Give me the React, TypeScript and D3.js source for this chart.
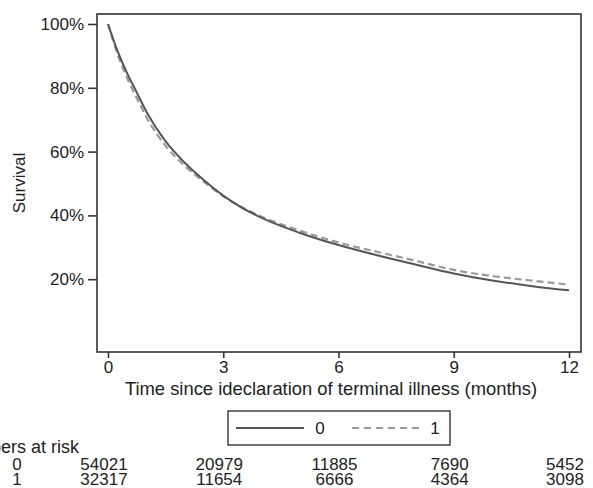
import { useEffect, useRef } from 'react';
import * as d3 from 'd3';

// survival estimates, by month
const months = [0, 0.25, 0.5, 0.75, 1, 1.5, 2, 2.5, 3, 3.5, 4, 5, 6, 7, 8, 9, 10, 11, 12];
const survival0 = [1.0, 0.915, 0.845, 0.785, 0.725, 0.632, 0.565, 0.51, 0.462, 0.423, 0.392, 0.345, 0.307, 0.275, 0.246, 0.218, 0.196, 0.179, 0.165];
const survival1 = [1.0, 0.905, 0.83, 0.768, 0.708, 0.618, 0.555, 0.505, 0.46, 0.425, 0.396, 0.352, 0.315, 0.286, 0.258, 0.229, 0.21, 0.196, 0.183];

const xTicks = [0, 3, 6, 9, 12];
const yTicks = [0.2, 0.4, 0.6, 0.8, 1.0];
const groups = ['0', '1'];
const atRisk0 = [54021, 20979, 11885, 7690, 5452];
const atRisk1 = [32317, 11654, 6666, 4364, 3098];

const W = 593;
const H = 488;
const FONT = 'Liberation Sans, Arial, sans-serif';

export default function App() {
  const svgRef = useRef<SVGSVGElement>(null);

  useEffect(() => {
    if (!svgRef.current) return;
    const svg = d3.select(svgRef.current);
    svg.selectAll('*').remove();

    const frame = { left: 97, right: 581, top: 14, bottom: 352 };

    const x = d3.scaleLinear().domain([0, 12]).range([108, 569]);
    const y = d3.scaleLinear().domain([0, 1]).range([343, 24]);

    svg.append('rect')
      .attr('width', W)
      .attr('height', H)
      .attr('fill', '#fff');

    // plot frame
    svg.append('rect')
      .attr('x', frame.left)
      .attr('y', frame.top)
      .attr('width', frame.right - frame.left)
      .attr('height', frame.bottom - frame.top)
      .attr('fill', 'none')
      .attr('stroke', '#333')
      .attr('stroke-width', 1.6);

    // y axis
    const yAxis = svg.append('g')
      .attr('transform', `translate(${frame.left},0)`)
      .call(d3.axisLeft(y).tickValues(yTicks).tickFormat(d3.format('.0%')).tickSize(9).tickPadding(4));
    yAxis.select('.domain').remove();
    yAxis.selectAll('line').attr('stroke', '#333').attr('stroke-width', 1.6);
    yAxis.selectAll('text')
      .attr('fill', '#222')
      .style('font-family', FONT)
      .style('font-size', '17px');

    // x axis
    const xAxis = svg.append('g')
      .attr('transform', `translate(0,${frame.bottom})`)
      .call(d3.axisBottom(x).tickValues(xTicks).tickFormat(d3.format('d')).tickSize(6).tickPadding(3));
    xAxis.select('.domain').remove();
    xAxis.selectAll('line').attr('stroke', '#333').attr('stroke-width', 1.6);
    xAxis.selectAll('text')
      .attr('fill', '#222')
      .style('font-family', FONT)
      .style('font-size', '17px');

    svg.append('text')
      .attr('x', 331)
      .attr('y', 395)
      .attr('text-anchor', 'middle')
      .attr('fill', '#222')
      .style('font-family', FONT)
      .style('font-size', '18.4px')
      .text('Time since ideclaration of terminal illness (months)');

    svg.append('text')
      .attr('transform', 'translate(25,183) rotate(-90)')
      .attr('text-anchor', 'middle')
      .attr('fill', '#222')
      .style('font-family', FONT)
      .style('font-size', '17px')
      .text('Survival');

    // curves
    const line = d3.line<number>()
      .x((_, i) => x(months[i]))
      .y(d => y(d))
      .curve(d3.curveMonotoneX);

    svg.append('path')
      .datum(survival1)
      .attr('fill', 'none')
      .attr('stroke', '#999')
      .attr('stroke-width', 2.2)
      .attr('stroke-dasharray', '7,4')
      .attr('d', line);

    svg.append('path')
      .datum(survival0)
      .attr('fill', 'none')
      .attr('stroke', '#555')
      .attr('stroke-width', 2)
      .attr('d', line);

    // legend
    const lg = svg.append('g');
    lg.append('rect')
      .attr('x', 228)
      .attr('y', 411)
      .attr('width', 222)
      .attr('height', 34)
      .attr('fill', '#fff')
      .attr('stroke', '#333')
      .attr('stroke-width', 1.4);
    lg.append('line')
      .attr('x1', 236).attr('x2', 304).attr('y1', 428).attr('y2', 428)
      .attr('stroke', '#555').attr('stroke-width', 2);
    lg.append('line')
      .attr('x1', 352).attr('x2', 421).attr('y1', 428).attr('y2', 428)
      .attr('stroke', '#999').attr('stroke-width', 2.2).attr('stroke-dasharray', '7,5');
    [[320, groups[0]], [435, groups[1]]].forEach(([lx, label]) => {
      lg.append('text')
        .attr('x', lx as number)
        .attr('y', 434)
        .attr('text-anchor', 'middle')
        .attr('fill', '#222')
        .style('font-family', FONT)
        .style('font-size', '17px')
        .text(label as string);
    });

    // numbers at risk table
    svg.append('text')
      .attr('x', 79)
      .attr('y', 453)
      .attr('text-anchor', 'end')
      .attr('fill', '#222')
      .style('font-family', FONT)
      .style('font-size', '18px')
      .text('Numbers at risk');

    [atRisk0, atRisk1].forEach((row, r) => {
      const by = 470 + r * 15;
      svg.append('text')
        .attr('x', 17)
        .attr('y', by)
        .attr('text-anchor', 'middle')
        .attr('fill', '#222')
        .style('font-family', FONT)
        .style('font-size', '17px')
        .text(groups[r]);
      svg.selectAll(null)
        .data(row)
        .enter()
        .append('text')
        .attr('x', (_, i) => x(xTicks[i]) - 4)
        .attr('y', by)
        .attr('text-anchor', 'middle')
        .attr('fill', '#222')
        .style('font-family', FONT)
        .style('font-size', '17px')
        .text(d => String(d));
    });
  }, []);

  return (
    <svg
      ref={svgRef}
      width={W}
      height={H}
      style={{ position: 'absolute', left: 0, top: 0, display: 'block' }}
    />
  );
}
